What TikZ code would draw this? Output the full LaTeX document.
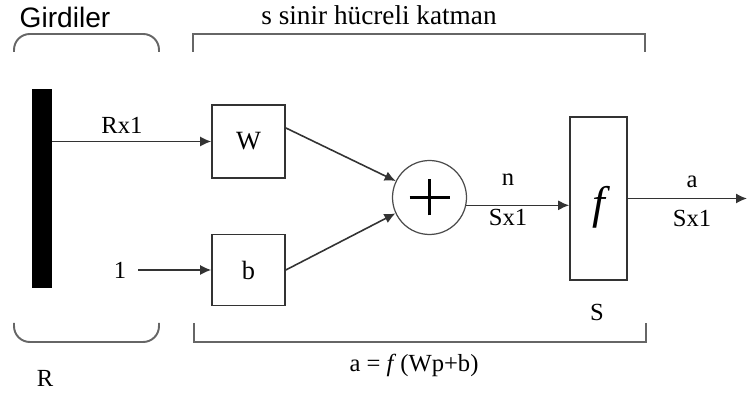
\documentclass[tikz,border=0pt]{standalone}
\usepackage{fontspec}
\setmainfont{Liberation Serif}
\setsansfont{Liberation Sans}
\usepackage{tikz}
\usetikzlibrary{arrows.meta,positioning,calc}
\tikzset{
  blockbox/.style={draw=black!80, line width=0.9pt, minimum width=1.46cm, minimum height=1.46cm, inner sep=0pt, font=\fontsize{15}{17}\selectfont},
  sumnode/.style={circle, draw=black!70, line width=0.7pt, minimum size=1.48cm, inner sep=0pt},
  inbar/.style={fill=black, minimum width=0.4cm, minimum height=3.98cm, inner sep=0pt},
  arrow/.style={-{Latex[length=2.2mm,width=2mm]}, line width=0.9pt, draw=black!80},
  bracket/.style={draw=black!60, line width=1.1pt},
  lbl/.style={font=\fontsize{14}{16}\selectfont, inner sep=1pt}
}

\begin{document}
\begin{tikzpicture}[x=0.02cm, y=-0.02cm]
\useasboundingbox (0,0) rectangle (747,394);
% titles
\node[font=\sffamily\fontsize{16}{18}\selectfont] (girdiler) at (65,17) {Girdiler};
\node[font=\fontsize{15.5}{18}\selectfont] (katman) at (379,15) {s sinir hücreli katman};
% brackets
\draw[bracket, rounded corners=9pt] (14,52) -- (14,34) -- (159,34) -- (159,52);
\draw[bracket] (193,52) -- (193,34) -- (645,34) -- (645,52);
\draw[bracket, rounded corners=9pt] (14,323) -- (14,342) -- (159,342) -- (159,323);
\draw[bracket] (194,323) -- (194,342) -- (646,342) -- (646,323);
% input vector
\node[inbar] (bar) at (42,188.5) {};
\node[lbl] (bias) at (120,270) {1};
% blocks
\node[blockbox] (W) at (248.5,141.5) {W};
\node[blockbox, minimum height=1.42cm] (b) at (248.5,270) {b};
\node[sumnode] (sum) at (429.5,197.5) {};
\draw[line width=1.8pt] ([xshift=-0.4cm]sum.center) -- ([xshift=0.4cm]sum.center);
\draw[line width=1.8pt] ([yshift=-0.36cm]sum.center) -- ([yshift=0.36cm]sum.center);
\node[blockbox, minimum width=1.14cm, minimum height=3.26cm] (f) at (598.5,198.5) {};
\node[font=\fontsize{26}{30}\selectfont\itshape, inner sep=0pt] (fsym) at ([yshift=-0.18cm]f.center) {f};
\coordinate (out) at (747,198.5);
% connectors
\draw[arrow] (bar.east |- W) -- (W.west);
\draw[arrow] ([xshift=0.2cm]bias.east) -- (b.west);
\draw[arrow] (W.20) -- (sum.154);
\draw[arrow] (b.east) -- (sum.205);
\draw[arrow] (sum.-12) -- (sum.-12 -| f.west);
\draw[arrow] (f.east) -- (out);
% labels
\node[lbl] (rx) at (122,125) {Rx1};
\node[lbl] (n) at (508,180) {n};
\node[lbl] (sn) at (508,217) {Sx1};
\node[lbl] (a) at (692,182) {a};
\node[lbl] (sa) at (692,218) {Sx1};
\node[lbl] (R) at (45,378) {R};
\node[lbl] (S) at (597,312) {S};
\node[lbl] (eq) at (414,365) {a = \textit{f}\,(Wp+b)};
\end{tikzpicture}
\end{document}
